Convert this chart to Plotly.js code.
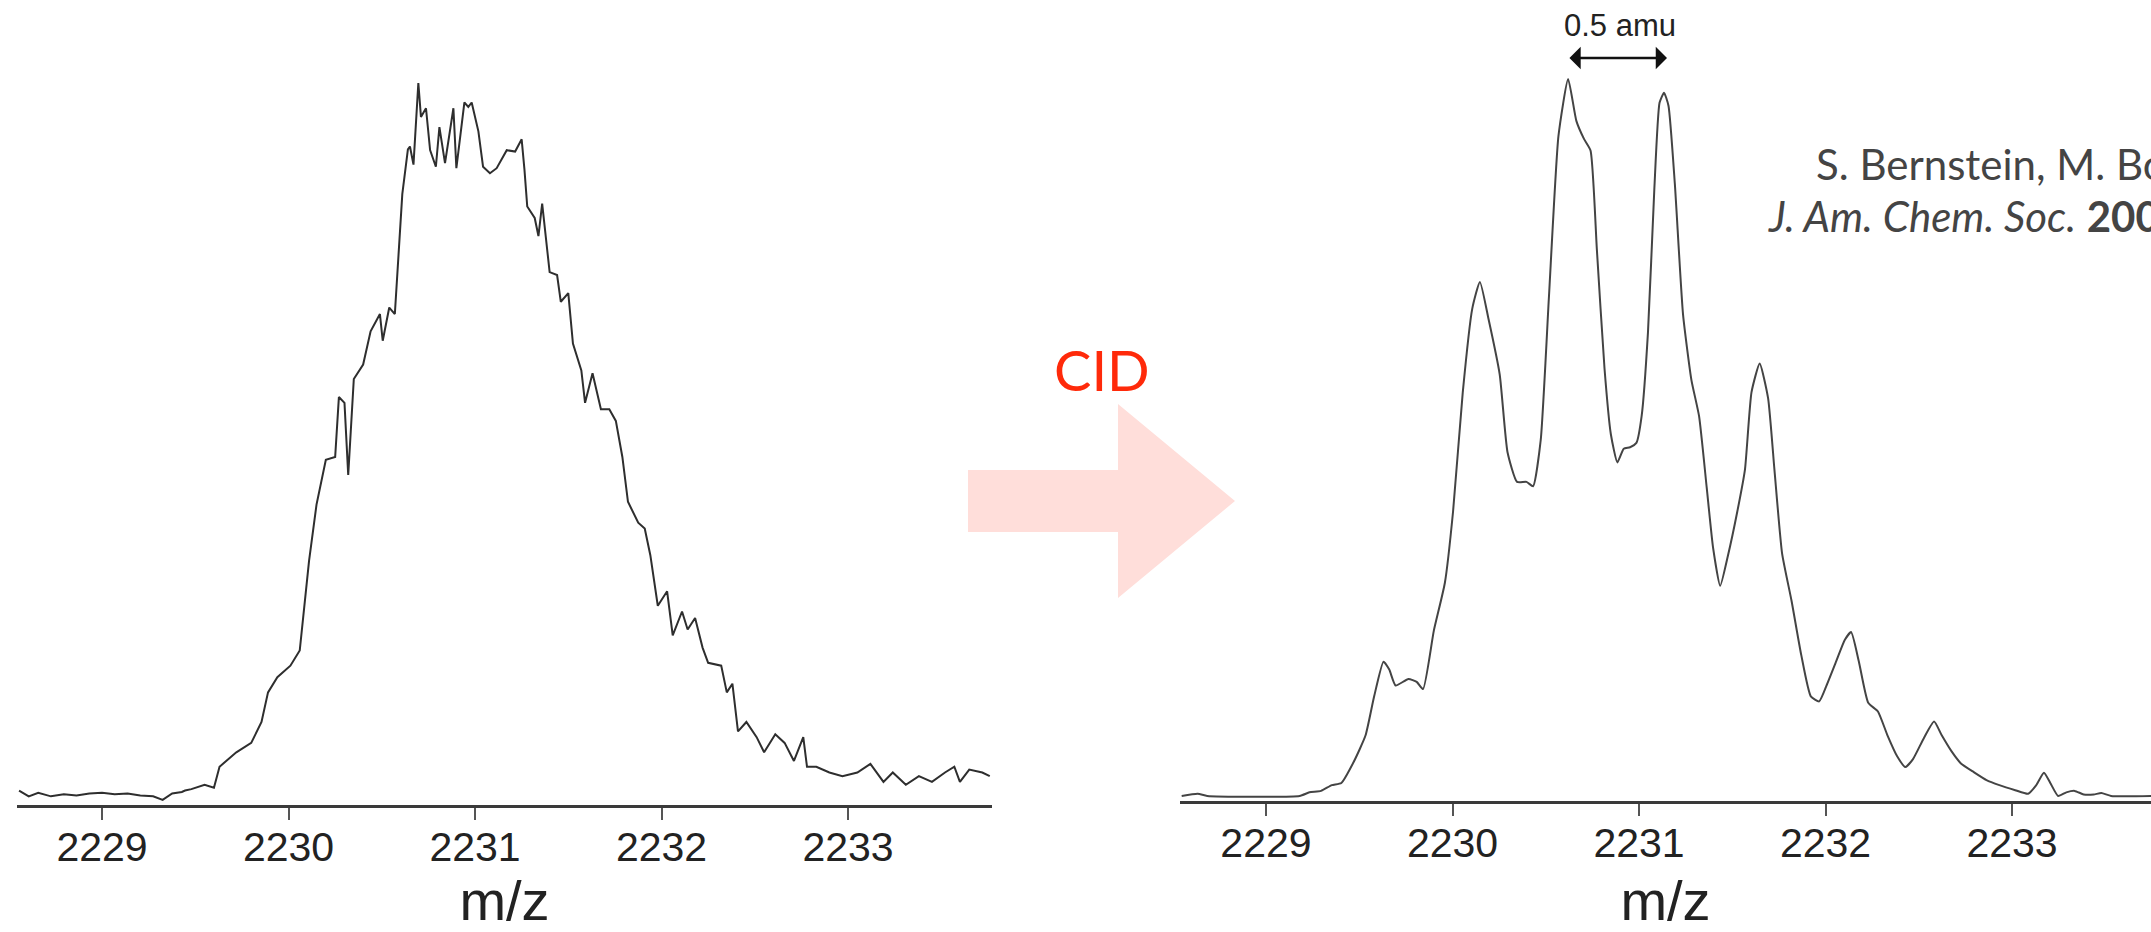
<!DOCTYPE html>
<html>
<head>
<meta charset="utf-8">
<script src="https://cdn.plot.ly/plotly-3.0.1.min.js"></script>
<style>
html, body { margin: 0; padding: 0; background: #ffffff; overflow: hidden; }
#chart { width: 2151px; height: 932px; }
</style>
</head>
<body>
<div id="chart"></div>
<script>
// ---- Data ----
// Left spectrum (before CID): m/z and relative intensity
const leftMz = [2228.555,2228.607,2228.658,2228.726,2228.795,2228.863,2228.932,2229.0,2229.068,2229.137,2229.205,2229.274,2229.325,2229.376,2229.428,2229.445,2229.479,2229.55,2229.6,2229.63,2229.72,2229.8,2229.855,2229.89,2229.94,2230.01,2230.06,2230.11,2230.15,2230.2,2230.25,2230.27,2230.3,2230.32,2230.35,2230.4,2230.44,2230.49,2230.505,2230.54,2230.57,2230.61,2230.64,2230.651,2230.67,2230.696,2230.71,2230.737,2230.759,2230.79,2230.809,2230.839,2230.884,2230.9,2230.943,2230.964,2230.982,2231.018,2231.043,2231.08,2231.116,2231.17,2231.215,2231.25,2231.265,2231.28,2231.32,2231.34,2231.36,2231.4,2231.44,2231.46,2231.5,2231.525,2231.57,2231.59,2231.63,2231.675,2231.72,2231.755,2231.79,2231.82,2231.875,2231.91,2231.94,2231.98,2232.03,2232.06,2232.11,2232.14,2232.18,2232.22,2232.25,2232.32,2232.35,2232.38,2232.41,2232.455,2232.51,2232.55,2232.61,2232.66,2232.71,2232.76,2232.78,2232.83,2232.9,2232.97,2233.05,2233.12,2233.19,2233.24,2233.31,2233.38,2233.45,2233.52,2233.57,2233.6,2233.65,2233.72,2233.76];
const leftIntensity = [2.0,1.2,1.7,1.2,1.5,1.3,1.6,1.7,1.5,1.6,1.3,1.2,0.7,1.6,1.8,2.0,2.2,2.8,2.4,5.3,7.3,8.6,11.5,15.6,17.7,19.3,21.4,33.8,41.6,47.8,48.2,56.5,55.7,45.7,59.0,61.0,65.6,68.0,64.3,68.9,68.0,84.6,90.8,91.2,88.7,100,95.3,96.5,90.7,88.4,93.9,88.9,96.5,88.2,97.3,96.7,97.3,93.3,88.4,87.5,88.2,90.7,90.5,92.2,88.0,82.9,81.3,78.8,83.3,73.8,73.4,69.7,70.9,63.9,60.2,55.7,59.8,54.8,54.8,53.2,48.2,42.0,39.1,38.3,34.6,27.6,29.6,23.5,26.8,24.3,25.9,21.8,19.7,19.3,15.6,16.8,10.2,11.5,9.4,7.3,9.8,8.6,6.1,9.4,5.3,5.3,4.5,4.0,4.5,5.7,3.2,4.5,2.8,4.0,3.2,4.5,5.3,3.2,4.9,4.5,4.0];

// Right spectrum (after CID)
const rightMz = [2228.548,2228.634,2228.685,2229.18,2229.233,2229.295,2229.353,2229.404,2229.47,2229.534,2229.58,2229.63,2229.661,2229.695,2229.764,2229.808,2229.842,2229.9,2229.959,2230.003,2230.055,2230.106,2230.147,2230.192,2230.253,2230.295,2230.346,2230.397,2230.432,2230.473,2230.517,2230.568,2230.62,2230.664,2230.705,2230.74,2230.774,2230.815,2230.849,2230.884,2230.918,2230.952,2230.986,2231.014,2231.048,2231.082,2231.11,2231.134,2231.158,2231.192,2231.236,2231.281,2231.322,2231.363,2231.397,2231.435,2231.476,2231.527,2231.568,2231.603,2231.647,2231.692,2231.726,2231.767,2231.818,2231.87,2231.921,2231.966,2232.007,2232.058,2232.103,2232.137,2232.178,2232.229,2232.281,2232.332,2232.384,2232.428,2232.469,2232.527,2232.582,2232.623,2232.675,2232.726,2232.795,2232.863,2232.932,2233.017,2233.086,2233.13,2233.171,2233.205,2233.247,2233.291,2233.336,2233.384,2233.438,2233.479,2233.531,2233.76];
const rightIntensity = [0.7,1.0,0.7,0.7,1.2,1.4,2.2,2.5,5.4,9.1,14.5,19.3,18.2,16.0,16.9,16.5,15.5,23.6,30.2,40.1,56.6,68.2,71.9,66.9,59.1,48.3,44.2,44.2,43.6,50.0,69.8,92.1,100,94.2,91.7,90.1,76.4,59.9,50.8,46.9,48.8,49.0,49.6,53.3,64.9,84.7,96.7,98.1,96.3,85.5,67.4,58.3,53.3,43.4,35.1,29.8,33.9,40.1,45.9,56.6,60.6,55.8,45.9,34.3,27.7,20.2,14.5,13.8,16.1,19.4,22.3,23.4,19.4,13.6,12.4,9.1,6.2,4.7,5.8,8.7,11.0,9.1,6.9,5.2,4.0,2.9,2.2,1.5,1.0,2.2,3.9,2.5,0.7,1.2,1.4,0.9,0.9,1.1,0.7,0.7];

const tickValues = [2229, 2230, 2231, 2232, 2233];
const tickLabels = ["2229", "2230", "2231", "2232", "2233"];
const axisTitle = "m/z";
const arrowLabel = "0.5 amu";
const processLabel = "CID";
const citeLine1 = "S. Bernstein, M. Bowers";
const citeLine2 = "<i>J. Am. Chem. Soc.</i> <b>2005</b>";

// ---- Layout helpers ----
const W = 2151, H = 932;
const px = x => x / W;
const py = y => 1 - y / H;

const tickFont = { family: "Liberation Sans, Arial, sans-serif", size: 41, color: "#222" };
const titleFont = { family: "Liberation Sans, Arial, sans-serif", size: 56, color: "#222" };

function xAxis(domain) {
  return {
    domain: domain,
    showgrid: false, zeroline: false,
    showline: true, linecolor: "#3a3a3a", linewidth: 3,
    ticks: "outside", ticklen: 12, tickwidth: 2, tickcolor: "#555",
    tickmode: "array", tickvals: tickValues, ticktext: tickLabels,
    tickfont: tickFont, ticklabelstandoff: -8,
    title: { text: axisTitle, font: titleFont, standoff: 20 },
    automargin: false, fixedrange: true
  };
}

const xa1 = xAxis([px(17), px(992)]);
xa1.range = [2228.544, 2233.772];
xa1.anchor = "y";
const xa2 = xAxis([px(1180), 1]);
xa2.range = [2228.539, 2233.745];
xa2.anchor = "y2";

const pxPerUnit = 7.22;
const plotTop = 40;
const ya1 = {
  domain: [py(805), py(plotTop)], range: [0, (805 - plotTop) / pxPerUnit],
  visible: false, showgrid: false, zeroline: false, fixedrange: true, anchor: "x"
};
const ya2 = {
  domain: [py(801), py(plotTop)], range: [0, (801 - plotTop) / pxPerUnit],
  visible: false, showgrid: false, zeroline: false, fixedrange: true, anchor: "x2"
};

const traces = [
  { x: leftMz, y: leftIntensity, xaxis: "x", yaxis: "y", type: "scatter", mode: "lines",
    line: { color: "#2e2e2e", width: 2 }, hoverinfo: "skip", cliponaxis: false },
  { x: rightMz, y: rightIntensity, xaxis: "x2", yaxis: "y2", type: "scatter", mode: "lines",
    line: { color: "#444", width: 2, shape: "spline", smoothing: 0.5 }, hoverinfo: "skip", cliponaxis: false }
];

// pink block arrow between the panels
const arrowPts = [[968,470],[1118,470],[1118,404],[1235,501],[1118,598],[1118,532],[968,532]];
const arrowPath = "M " + arrowPts.map(p => px(p[0]).toFixed(5) + "," + py(p[1]).toFixed(5)).join(" L ") + " Z";

const layout = {
  width: W, height: H,
  margin: { l: 0, r: 0, t: 0, b: 0, pad: 0 },
  paper_bgcolor: "#ffffff", plot_bgcolor: "rgba(0,0,0,0)",
  showlegend: false,
  xaxis: xa1, yaxis: ya1, xaxis2: xa2, yaxis2: ya2,
  shapes: [
    { type: "path", xref: "paper", yref: "paper", path: arrowPath,
      fillcolor: "#ffdeda", line: { width: 0 }, layer: "below" }
  ],
  annotations: [
    { xref: "paper", yref: "paper", x: px(1102), y: py(370), text: processLabel, showarrow: false,
      xanchor: "center", yanchor: "middle",
      font: { family: "Lato, Noto Sans, sans-serif", size: 56, color: "#ff2a0a" } },
    { xref: "x2", yref: "y2", x: 2231.15, y: (801 - 58) / pxPerUnit,
      axref: "x2", ayref: "y2", ax: 2230.619, ay: (801 - 58) / pxPerUnit,
      text: "", showarrow: true, arrowside: "end+start", arrowhead: 1, arrowsize: 1.5,
      arrowwidth: 2.5, arrowcolor: "#111", standoff: 0, startstandoff: 0 },
    { xref: "paper", yref: "paper", x: px(1620), y: py(25), text: arrowLabel,
      showarrow: false, xanchor: "center", yanchor: "middle",
      font: { family: "Liberation Sans, Arial, sans-serif", size: 31, color: "#222" } },
    { xref: "paper", yref: "paper", x: px(1814), y: py(164), text: citeLine1,
      showarrow: false, xanchor: "left", yanchor: "middle", align: "left",
      font: { family: "Lato, Noto Sans, sans-serif", size: 42, color: "#444" } },
    { xref: "paper", yref: "paper", x: px(1766), y: py(216), text: citeLine2,
      showarrow: false, xanchor: "left", yanchor: "middle", align: "left",
      font: { family: "Lato, Noto Sans, sans-serif", size: 42, color: "#444" } }
  ]
};

Plotly.newPlot("chart", traces, layout, { displayModeBar: false, staticPlot: true });
</script>
</body>
</html>
